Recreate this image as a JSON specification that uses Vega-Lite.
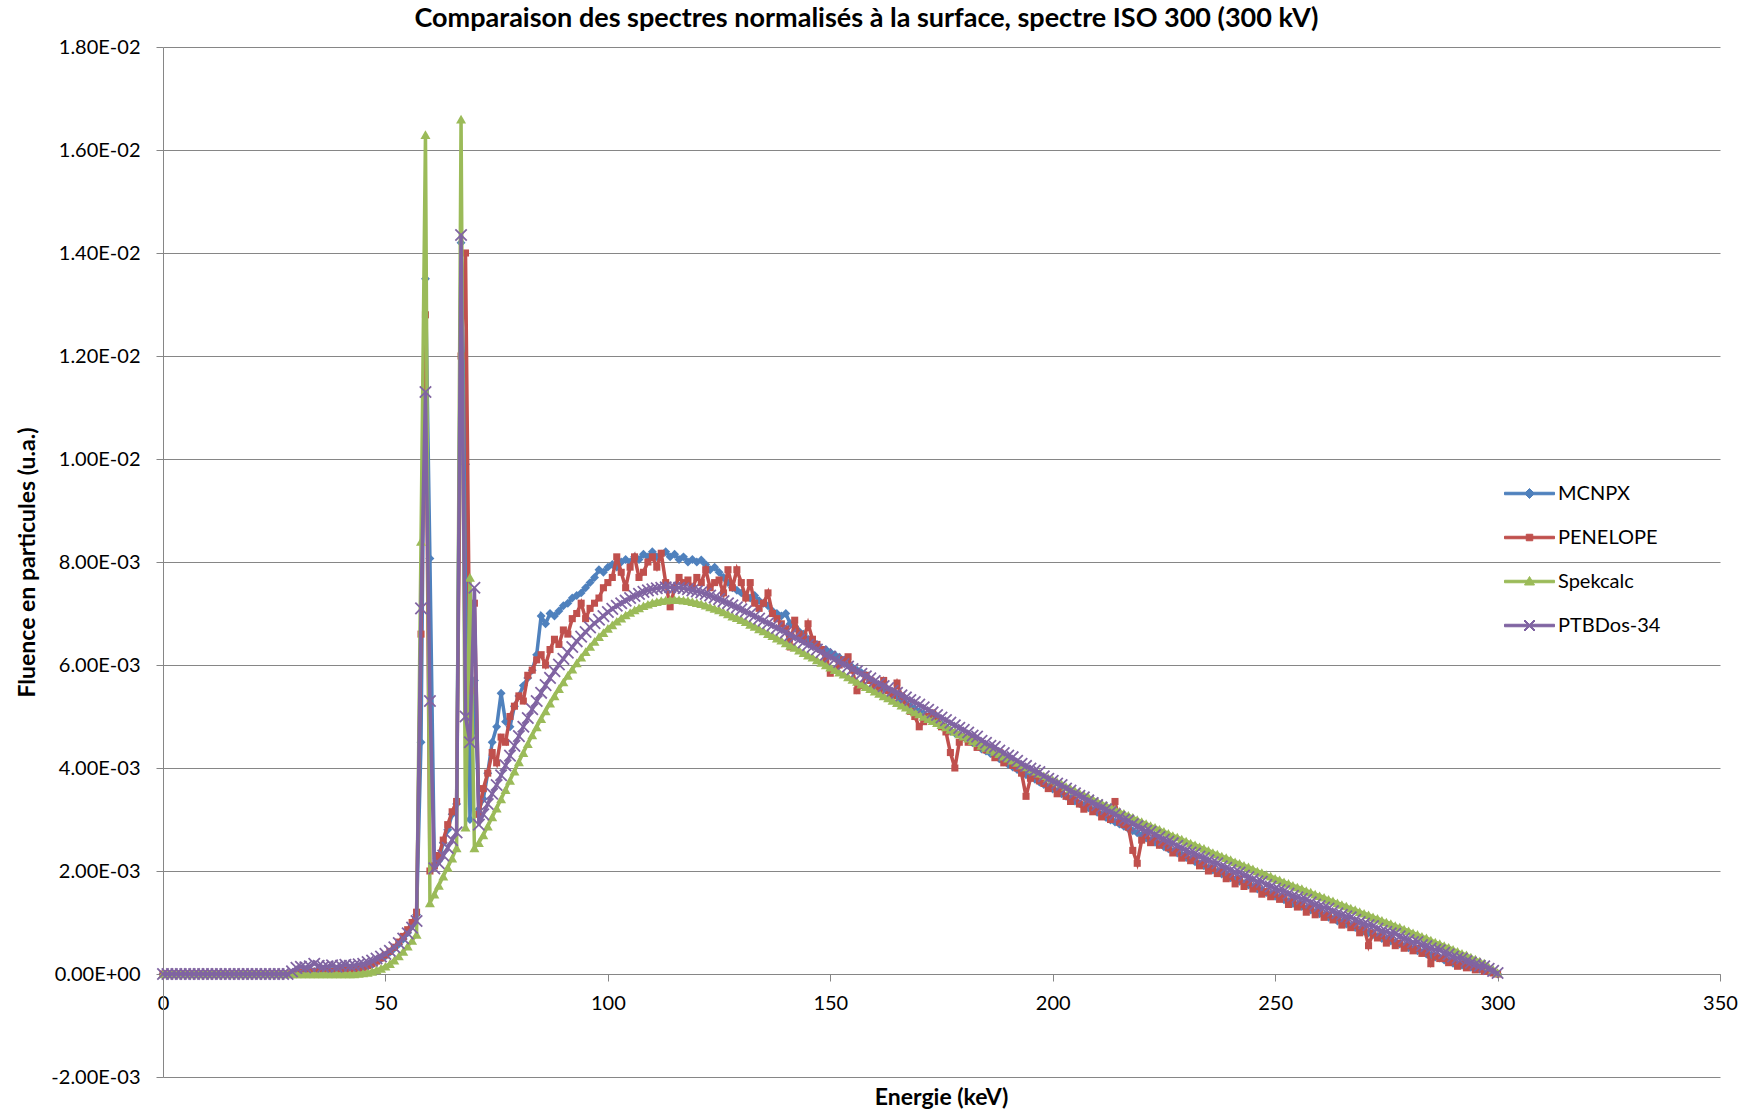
{
"$schema": "https://vega.github.io/schema/vega-lite/v6.json",
"width": 1557, "height": 1030,
"autosize": {"type": "none"},
"padding": {"left": 163, "top": 47, "right": 33, "bottom": 37},
"background": "white",
"config": {"view": {"stroke": null}},
"title": {"text": "Comparaison des spectres normalisés à la surface, spectre ISO 300 (300 kV)", "font": "Lato", "fontSize": 27, "fontWeight": "bold", "color": "#000000", "anchor": "middle", "frame": "group", "dx": -75, "offset": 4},
"data": {"values": [
{"e":0,"M":0,"P":0,"S":0,"T":0},{"e":1,"M":0,"P":0,"S":0,"T":0},{"e":2,"M":0,"P":0,"S":0,"T":0},{"e":3,"M":0,"P":0,"S":0,"T":0},{"e":4,"M":0,"P":0,"S":0,"T":0},{"e":5,"M":0,"P":0,"S":0,"T":0},{"e":6,"M":0,"P":0,"S":0,"T":0},{"e":7,"M":0,"P":0,"S":0,"T":0},{"e":8,"M":0,"P":0,"S":0,"T":0},{"e":9,"M":0,"P":0,"S":0,"T":0},
{"e":10,"M":0,"P":0,"S":0,"T":0},{"e":11,"M":0,"P":0,"S":0,"T":0},{"e":12,"M":0,"P":0,"S":0,"T":0},{"e":13,"M":0,"P":0,"S":0,"T":0},{"e":14,"M":0,"P":0,"S":0,"T":0},{"e":15,"M":0,"P":0,"S":0,"T":0},{"e":16,"M":0,"P":0,"S":0,"T":0},{"e":17,"M":0,"P":0,"S":0,"T":0},{"e":18,"M":0,"P":0,"S":0,"T":0},{"e":19,"M":0,"P":0,"S":0,"T":0},
{"e":20,"M":0,"P":0,"S":0,"T":0},{"e":21,"M":0,"P":0,"S":0,"T":0},{"e":22,"M":0,"P":0,"S":0,"T":0},{"e":23,"M":0,"P":0,"S":0,"T":0},{"e":24,"M":0,"P":0,"S":0,"T":0},{"e":25,"M":0,"P":0,"S":0,"T":0},{"e":26,"M":0,"P":0,"S":0,"T":0},{"e":27,"M":0,"P":0,"S":0,"T":0},{"e":28,"M":0,"P":0,"S":0,"T":0},{"e":29,"M":0,"P":0,"S":0,"T":0.05e-3},
{"e":30,"M":0.02e-3,"P":0.02e-3,"S":0,"T":0.12e-3},{"e":31,"M":0.03e-3,"P":0.03e-3,"S":0,"T":0.14e-3},{"e":32,"M":0.03e-3,"P":0.04e-3,"S":0,"T":0.13e-3},{"e":33,"M":0.04e-3,"P":0.03e-3,"S":0,"T":0.15e-3},{"e":34,"M":0.05e-3,"P":0.05e-3,"S":0,"T":0.2e-3},{"e":35,"M":0.04e-3,"P":0.05e-3,"S":0,"T":0.16e-3},{"e":36,"M":0.05e-3,"P":0.04e-3,"S":0,"T":0.14e-3},{"e":37,"M":0.05e-3,"P":0.06e-3,"S":0,"T":0.15e-3},{"e":38,"M":0.06e-3,"P":0.05e-3,"S":0,"T":0.17e-3},{"e":39,"M":0.06e-3,"P":0.06e-3,"S":0,"T":0.14e-3},
{"e":40,"M":0.07e-3,"P":0.07e-3,"S":0,"T":0.16e-3},{"e":41,"M":0.07e-3,"P":0.08e-3,"S":0,"T":0.18e-3},{"e":42,"M":0.08e-3,"P":0.08e-3,"S":0,"T":0.16e-3},{"e":43,"M":0.09e-3,"P":0.1e-3,"S":0,"T":0.17e-3},{"e":44,"M":0.1e-3,"P":0.11e-3,"S":0.01e-3,"T":0.19e-3},{"e":45,"M":0.12e-3,"P":0.13e-3,"S":0.02e-3,"T":0.2e-3},{"e":46,"M":0.15e-3,"P":0.16e-3,"S":0.03e-3,"T":0.23e-3},{"e":47,"M":0.19e-3,"P":0.2e-3,"S":0.05e-3,"T":0.26e-3},{"e":48,"M":0.24e-3,"P":0.25e-3,"S":0.08e-3,"T":0.3e-3},{"e":49,"M":0.29e-3,"P":0.31e-3,"S":0.11e-3,"T":0.34e-3},
{"e":50,"M":0.35e-3,"P":0.37e-3,"S":0.15e-3,"T":0.39e-3},{"e":51,"M":0.42e-3,"P":0.44e-3,"S":0.2e-3,"T":0.45e-3},{"e":52,"M":0.5e-3,"P":0.52e-3,"S":0.27e-3,"T":0.52e-3},{"e":53,"M":0.58e-3,"P":0.62e-3,"S":0.35e-3,"T":0.6e-3},{"e":54,"M":0.68e-3,"P":0.73e-3,"S":0.44e-3,"T":0.69e-3},{"e":55,"M":0.8e-3,"P":0.86e-3,"S":0.54e-3,"T":0.79e-3},{"e":56,"M":0.95e-3,"P":1.0e-3,"S":0.65e-3,"T":0.9e-3},{"e":57,"M":1.15e-3,"P":1.2e-3,"S":0.77e-3,"T":1.03e-3},{"e":58,"M":4.5e-3,"P":6.6e-3,"S":8.4e-3,"T":7.1e-3},{"e":59,"M":13.5e-3,"P":12.8e-3,"S":16.3e-3,"T":11.3e-3},
{"e":60,"M":8.07e-3,"P":2.0e-3,"S":1.38e-3,"T":5.3e-3},{"e":61,"M":2.1e-3,"P":2.1e-3,"S":1.55e-3,"T":2.05e-3},{"e":62,"M":2.2e-3,"P":2.3e-3,"S":1.72e-3,"T":2.15e-3},{"e":63,"M":2.55e-3,"P":2.6e-3,"S":1.9e-3,"T":2.3e-3},{"e":64,"M":2.8e-3,"P":2.9e-3,"S":2.07e-3,"T":2.45e-3},{"e":65,"M":3.1e-3,"P":3.15e-3,"S":2.25e-3,"T":2.6e-3},{"e":66,"M":3.3e-3,"P":3.35e-3,"S":2.45e-3,"T":2.75e-3},{"e":67,"M":14.2e-3,"P":12.0e-3,"S":16.6e-3,"T":14.35e-3},{"e":68,"M":9.9e-3,"P":14.0e-3,"S":2.85e-3,"T":5.0e-3},{"e":69,"M":3.0e-3,"P":5.5e-3,"S":7.7e-3,"T":4.5e-3},
{"e":70,"M":5.7e-3,"P":7.2e-3,"S":2.45e-3,"T":7.5e-3},{"e":71,"M":3.2e-3,"P":3.1e-3,"S":2.55e-3,"T":2.9e-3},{"e":72,"M":3.4e-3,"P":3.6e-3,"S":2.7e-3,"T":3.1e-3},{"e":73,"M":3.9e-3,"P":3.9e-3,"S":2.87e-3,"T":3.3e-3},{"e":74,"M":4.5e-3,"P":4.3e-3,"S":3.05e-3,"T":3.5e-3},{"e":75,"M":4.8e-3,"P":4.1e-3,"S":3.22e-3,"T":3.67e-3},{"e":76,"M":5.45e-3,"P":4.6e-3,"S":3.4e-3,"T":3.86e-3},{"e":77,"M":4.9e-3,"P":4.5e-3,"S":3.58e-3,"T":4.05e-3},{"e":78,"M":4.8e-3,"P":5.0e-3,"S":3.76e-3,"T":4.24e-3},{"e":79,"M":5.2e-3,"P":5.2e-3,"S":3.94e-3,"T":4.43e-3},
{"e":80,"M":5.4e-3,"P":5.4e-3,"S":4.12e-3,"T":4.62e-3},{"e":81,"M":5.6e-3,"P":5.3e-3,"S":4.3e-3,"T":4.8e-3},{"e":82,"M":5.75e-3,"P":5.8e-3,"S":4.47e-3,"T":4.97e-3},{"e":83,"M":5.9e-3,"P":5.9e-3,"S":4.64e-3,"T":5.14e-3},{"e":84,"M":6.2e-3,"P":6.1e-3,"S":4.8e-3,"T":5.3e-3},{"e":85,"M":6.95e-3,"P":6.2e-3,"S":4.96e-3,"T":5.46e-3},{"e":86,"M":6.8e-3,"P":6.0e-3,"S":5.11e-3,"T":5.61e-3},{"e":87,"M":7.0e-3,"P":6.3e-3,"S":5.26e-3,"T":5.75e-3},{"e":88,"M":6.95e-3,"P":6.5e-3,"S":5.4e-3,"T":5.88e-3},{"e":89,"M":7.05e-3,"P":6.4e-3,"S":5.54e-3,"T":6.01e-3},
{"e":90,"M":7.15e-3,"P":6.68e-3,"S":5.67e-3,"T":6.12e-3},{"e":91,"M":7.2e-3,"P":6.6e-3,"S":5.8e-3,"T":6.24e-3},{"e":92,"M":7.3e-3,"P":6.9e-3,"S":5.92e-3,"T":6.35e-3},{"e":93,"M":7.35e-3,"P":7.0e-3,"S":6.04e-3,"T":6.46e-3},{"e":94,"M":7.4e-3,"P":7.2e-3,"S":6.15e-3,"T":6.55e-3},{"e":95,"M":7.5e-3,"P":6.9e-3,"S":6.26e-3,"T":6.64e-3},{"e":96,"M":7.6e-3,"P":7.1e-3,"S":6.36e-3,"T":6.73e-3},{"e":97,"M":7.7e-3,"P":7.2e-3,"S":6.46e-3,"T":6.81e-3},{"e":98,"M":7.85e-3,"P":7.3e-3,"S":6.55e-3,"T":6.88e-3},{"e":99,"M":7.8e-3,"P":7.5e-3,"S":6.63e-3,"T":6.95e-3},
{"e":100,"M":7.9e-3,"P":7.6e-3,"S":6.71e-3,"T":7.03e-3},{"e":101,"M":7.95e-3,"P":7.7e-3,"S":6.78e-3,"T":7.09e-3},{"e":102,"M":7.9e-3,"P":8.1e-3,"S":6.85e-3,"T":7.15e-3},{"e":103,"M":8.0e-3,"P":7.8e-3,"S":6.91e-3,"T":7.2e-3},{"e":104,"M":8.05e-3,"P":7.5e-3,"S":6.97e-3,"T":7.25e-3},{"e":105,"M":8.0e-3,"P":7.9e-3,"S":7.02e-3,"T":7.3e-3},{"e":106,"M":8.1e-3,"P":8.1e-3,"S":7.07e-3,"T":7.34e-3},{"e":107,"M":8.05e-3,"P":7.7e-3,"S":7.11e-3,"T":7.38e-3},{"e":108,"M":8.15e-3,"P":7.8e-3,"S":7.15e-3,"T":7.42e-3},{"e":109,"M":8.1e-3,"P":8.0e-3,"S":7.18e-3,"T":7.45e-3},
{"e":110,"M":8.2e-3,"P":8.1e-3,"S":7.21e-3,"T":7.47e-3},{"e":111,"M":8.1e-3,"P":7.9e-3,"S":7.23e-3,"T":7.49e-3},{"e":112,"M":8.15e-3,"P":8.17e-3,"S":7.25e-3,"T":7.5e-3},{"e":113,"M":8.2e-3,"P":7.6e-3,"S":7.26e-3,"T":7.51e-3},{"e":114,"M":8.1e-3,"P":7.13e-3,"S":7.27e-3,"T":7.51e-3},{"e":115,"M":8.15e-3,"P":7.5e-3,"S":7.27e-3,"T":7.5e-3},{"e":116,"M":8.05e-3,"P":7.7e-3,"S":7.27e-3,"T":7.5e-3},{"e":117,"M":8.1e-3,"P":7.6e-3,"S":7.26e-3,"T":7.49e-3},{"e":118,"M":8.0e-3,"P":7.65e-3,"S":7.25e-3,"T":7.47e-3},{"e":119,"M":8.05e-3,"P":7.5e-3,"S":7.23e-3,"T":7.45e-3},
{"e":120,"M":8.0e-3,"P":7.7e-3,"S":7.21e-3,"T":7.43e-3},{"e":121,"M":8.04e-3,"P":7.6e-3,"S":7.19e-3,"T":7.41e-3},{"e":122,"M":7.95e-3,"P":7.85e-3,"S":7.16e-3,"T":7.38e-3},{"e":123,"M":7.85e-3,"P":7.5e-3,"S":7.13e-3,"T":7.35e-3},{"e":124,"M":7.9e-3,"P":7.6e-3,"S":7.1e-3,"T":7.31e-3},{"e":125,"M":7.8e-3,"P":7.65e-3,"S":7.07e-3,"T":7.28e-3},{"e":126,"M":7.7e-3,"P":7.4e-3,"S":7.03e-3,"T":7.24e-3},{"e":127,"M":7.6e-3,"P":7.85e-3,"S":6.99e-3,"T":7.2e-3},{"e":128,"M":7.5e-3,"P":7.5e-3,"S":6.95e-3,"T":7.16e-3},{"e":129,"M":7.45e-3,"P":7.85e-3,"S":6.92e-3,"T":7.12e-3},
{"e":130,"M":7.4e-3,"P":7.6e-3,"S":6.88e-3,"T":7.08e-3},{"e":131,"M":7.35e-3,"P":7.3e-3,"S":6.84e-3,"T":7.04e-3},{"e":132,"M":7.3e-3,"P":7.6e-3,"S":6.79e-3,"T":6.99e-3},{"e":133,"M":7.35e-3,"P":7.2e-3,"S":6.75e-3,"T":6.95e-3},{"e":134,"M":7.25e-3,"P":7.1e-3,"S":6.7e-3,"T":6.9e-3},{"e":135,"M":7.2e-3,"P":7.2e-3,"S":6.66e-3,"T":6.86e-3},{"e":136,"M":7.15e-3,"P":7.4e-3,"S":6.61e-3,"T":6.81e-3},{"e":137,"M":7.05e-3,"P":7.0e-3,"S":6.57e-3,"T":6.77e-3},{"e":138,"M":7.0e-3,"P":6.9e-3,"S":6.52e-3,"T":6.72e-3},{"e":139,"M":6.95e-3,"P":6.8e-3,"S":6.48e-3,"T":6.68e-3},
{"e":140,"M":7.0e-3,"P":6.7e-3,"S":6.43e-3,"T":6.63e-3},{"e":141,"M":6.8e-3,"P":6.35e-3,"S":6.38e-3,"T":6.58e-3},{"e":142,"M":6.75e-3,"P":6.87e-3,"S":6.34e-3,"T":6.54e-3},{"e":143,"M":6.65e-3,"P":6.6e-3,"S":6.29e-3,"T":6.49e-3},{"e":144,"M":6.6e-3,"P":6.5e-3,"S":6.24e-3,"T":6.44e-3},{"e":145,"M":6.5e-3,"P":6.8e-3,"S":6.19e-3,"T":6.39e-3},{"e":146,"M":6.45e-3,"P":6.5e-3,"S":6.15e-3,"T":6.35e-3},{"e":147,"M":6.4e-3,"P":6.4e-3,"S":6.1e-3,"T":6.3e-3},{"e":148,"M":6.3e-3,"P":6.3e-3,"S":6.05e-3,"T":6.25e-3},{"e":149,"M":6.3e-3,"P":6.1e-3,"S":6.0e-3,"T":6.2e-3},
{"e":150,"M":6.25e-3,"P":5.84e-3,"S":5.96e-3,"T":6.16e-3},{"e":151,"M":6.2e-3,"P":5.9e-3,"S":5.91e-3,"T":6.11e-3},{"e":152,"M":6.15e-3,"P":6.0e-3,"S":5.86e-3,"T":6.06e-3},{"e":153,"M":6.05e-3,"P":6.1e-3,"S":5.82e-3,"T":6.02e-3},{"e":154,"M":6.0e-3,"P":6.16e-3,"S":5.77e-3,"T":5.97e-3},{"e":155,"M":5.95e-3,"P":5.9e-3,"S":5.72e-3,"T":5.92e-3},{"e":156,"M":5.9e-3,"P":5.5e-3,"S":5.68e-3,"T":5.88e-3},{"e":157,"M":5.85e-3,"P":5.6e-3,"S":5.63e-3,"T":5.83e-3},{"e":158,"M":5.8e-3,"P":5.8e-3,"S":5.58e-3,"T":5.78e-3},{"e":159,"M":5.7e-3,"P":5.7e-3,"S":5.54e-3,"T":5.74e-3},
{"e":160,"M":5.65e-3,"P":5.6e-3,"S":5.49e-3,"T":5.69e-3},{"e":161,"M":5.6e-3,"P":5.5e-3,"S":5.45e-3,"T":5.64e-3},{"e":162,"M":5.55e-3,"P":5.7e-3,"S":5.4e-3,"T":5.59e-3},{"e":163,"M":5.5e-3,"P":5.5e-3,"S":5.36e-3,"T":5.55e-3},{"e":164,"M":5.45e-3,"P":5.4e-3,"S":5.31e-3,"T":5.5e-3},{"e":165,"M":5.4e-3,"P":5.65e-3,"S":5.27e-3,"T":5.46e-3},{"e":166,"M":5.3e-3,"P":5.4e-3,"S":5.22e-3,"T":5.41e-3},{"e":167,"M":5.25e-3,"P":5.2e-3,"S":5.18e-3,"T":5.37e-3},{"e":168,"M":5.2e-3,"P":5.1e-3,"S":5.13e-3,"T":5.32e-3},{"e":169,"M":5.15e-3,"P":5.0e-3,"S":5.09e-3,"T":5.28e-3},
{"e":170,"M":5.1e-3,"P":4.8e-3,"S":5.05e-3,"T":5.23e-3},{"e":171,"M":5.05e-3,"P":4.9e-3,"S":5.0e-3,"T":5.18e-3},{"e":172,"M":5.0e-3,"P":5.0e-3,"S":4.96e-3,"T":5.13e-3},{"e":173,"M":4.95e-3,"P":5.07e-3,"S":4.92e-3,"T":5.08e-3},{"e":174,"M":4.9e-3,"P":4.9e-3,"S":4.88e-3,"T":5.03e-3},{"e":175,"M":4.85e-3,"P":4.8e-3,"S":4.84e-3,"T":4.98e-3},{"e":176,"M":4.8e-3,"P":4.7e-3,"S":4.8e-3,"T":4.93e-3},{"e":177,"M":4.72e-3,"P":4.3e-3,"S":4.75e-3,"T":4.88e-3},{"e":178,"M":4.68e-3,"P":4.0e-3,"S":4.71e-3,"T":4.83e-3},{"e":179,"M":4.65e-3,"P":4.5e-3,"S":4.66e-3,"T":4.78e-3},
{"e":180,"M":4.6e-3,"P":4.6e-3,"S":4.62e-3,"T":4.74e-3},{"e":181,"M":4.55e-3,"P":4.5e-3,"S":4.58e-3,"T":4.69e-3},{"e":182,"M":4.49e-3,"P":4.6e-3,"S":4.53e-3,"T":4.63e-3},{"e":183,"M":4.44e-3,"P":4.4e-3,"S":4.49e-3,"T":4.61e-3},{"e":184,"M":4.37e-3,"P":4.45e-3,"S":4.44e-3,"T":4.53e-3},{"e":185,"M":4.33e-3,"P":4.35e-3,"S":4.4e-3,"T":4.49e-3},{"e":186,"M":4.28e-3,"P":4.4e-3,"S":4.36e-3,"T":4.43e-3},{"e":187,"M":4.23e-3,"P":4.2e-3,"S":4.32e-3,"T":4.41e-3},{"e":188,"M":4.18e-3,"P":4.3e-3,"S":4.28e-3,"T":4.34e-3},{"e":189,"M":4.12e-3,"P":4.1e-3,"S":4.23e-3,"T":4.29e-3},
{"e":190,"M":4.07e-3,"P":4.15e-3,"S":4.19e-3,"T":4.24e-3},{"e":191,"M":4.02e-3,"P":4.05e-3,"S":4.15e-3,"T":4.21e-3},{"e":192,"M":3.97e-3,"P":4.0e-3,"S":4.11e-3,"T":4.14e-3},{"e":193,"M":3.92e-3,"P":3.9e-3,"S":4.06e-3,"T":4.08e-3},{"e":194,"M":3.87e-3,"P":3.45e-3,"S":4.02e-3,"T":4.04e-3},{"e":195,"M":3.83e-3,"P":3.8e-3,"S":3.98e-3,"T":3.99e-3},{"e":196,"M":3.78e-3,"P":3.85e-3,"S":3.94e-3,"T":3.95e-3},{"e":197,"M":3.73e-3,"P":3.75e-3,"S":3.9e-3,"T":3.92e-3},{"e":198,"M":3.68e-3,"P":3.7e-3,"S":3.85e-3,"T":3.84e-3},{"e":199,"M":3.64e-3,"P":3.6e-3,"S":3.81e-3,"T":3.79e-3},
{"e":200,"M":3.59e-3,"P":3.65e-3,"S":3.77e-3,"T":3.75e-3},{"e":201,"M":3.55e-3,"P":3.5e-3,"S":3.73e-3,"T":3.7e-3},{"e":202,"M":3.5e-3,"P":3.55e-3,"S":3.69e-3,"T":3.67e-3},{"e":203,"M":3.45e-3,"P":3.45e-3,"S":3.64e-3,"T":3.6e-3},{"e":204,"M":3.41e-3,"P":3.35e-3,"S":3.6e-3,"T":3.56e-3},{"e":205,"M":3.36e-3,"P":3.45e-3,"S":3.56e-3,"T":3.51e-3},{"e":206,"M":3.31e-3,"P":3.3e-3,"S":3.52e-3,"T":3.46e-3},{"e":207,"M":3.27e-3,"P":3.2e-3,"S":3.48e-3,"T":3.43e-3},{"e":208,"M":3.23e-3,"P":3.3e-3,"S":3.44e-3,"T":3.37e-3},{"e":209,"M":3.18e-3,"P":3.15e-3,"S":3.4e-3,"T":3.32e-3},
{"e":210,"M":3.14e-3,"P":3.2e-3,"S":3.36e-3,"T":3.28e-3},{"e":211,"M":3.09e-3,"P":3.05e-3,"S":3.32e-3,"T":3.23e-3},{"e":212,"M":3.04e-3,"P":3.1e-3,"S":3.28e-3,"T":3.2e-3},{"e":213,"M":2.99e-3,"P":3.0e-3,"S":3.24e-3,"T":3.14e-3},{"e":214,"M":2.95e-3,"P":3.35e-3,"S":3.2e-3,"T":3.1e-3},{"e":215,"M":2.91e-3,"P":2.95e-3,"S":3.16e-3,"T":3.05e-3},{"e":216,"M":2.87e-3,"P":2.9e-3,"S":3.12e-3,"T":3.0e-3},{"e":217,"M":2.82e-3,"P":2.85e-3,"S":3.08e-3,"T":2.98e-3},{"e":218,"M":2.78e-3,"P":2.4e-3,"S":3.04e-3,"T":2.91e-3},{"e":219,"M":2.74e-3,"P":2.15e-3,"S":3.0e-3,"T":2.87e-3},
{"e":220,"M":2.69e-3,"P":2.6e-3,"S":2.96e-3,"T":2.82e-3},{"e":221,"M":2.64e-3,"P":2.7e-3,"S":2.92e-3,"T":2.78e-3},{"e":222,"M":2.59e-3,"P":2.55e-3,"S":2.88e-3,"T":2.76e-3},{"e":223,"M":2.56e-3,"P":2.65e-3,"S":2.85e-3,"T":2.7e-3},{"e":224,"M":2.52e-3,"P":2.5e-3,"S":2.81e-3,"T":2.66e-3},{"e":225,"M":2.47e-3,"P":2.55e-3,"S":2.77e-3,"T":2.61e-3},{"e":226,"M":2.43e-3,"P":2.45e-3,"S":2.73e-3,"T":2.57e-3},{"e":227,"M":2.38e-3,"P":2.35e-3,"S":2.69e-3,"T":2.54e-3},{"e":228,"M":2.35e-3,"P":2.4e-3,"S":2.66e-3,"T":2.49e-3},{"e":229,"M":2.31e-3,"P":2.25e-3,"S":2.62e-3,"T":2.44e-3},
{"e":230,"M":2.26e-3,"P":2.3e-3,"S":2.58e-3,"T":2.4e-3},{"e":231,"M":2.22e-3,"P":2.2e-3,"S":2.54e-3,"T":2.36e-3},{"e":232,"M":2.18e-3,"P":2.25e-3,"S":2.51e-3,"T":2.34e-3},{"e":233,"M":2.14e-3,"P":2.1e-3,"S":2.47e-3,"T":2.28e-3},{"e":234,"M":2.1e-3,"P":2.15e-3,"S":2.44e-3,"T":2.25e-3},{"e":235,"M":2.06e-3,"P":2.0e-3,"S":2.4e-3,"T":2.21e-3},{"e":236,"M":2.02e-3,"P":2.05e-3,"S":2.36e-3,"T":2.17e-3},{"e":237,"M":1.98e-3,"P":1.95e-3,"S":2.33e-3,"T":2.15e-3},{"e":238,"M":1.94e-3,"P":2.0e-3,"S":2.29e-3,"T":2.09e-3},{"e":239,"M":1.91e-3,"P":1.85e-3,"S":2.26e-3,"T":2.06e-3},
{"e":240,"M":1.87e-3,"P":1.9e-3,"S":2.22e-3,"T":2.02e-3},{"e":241,"M":1.83e-3,"P":1.75e-3,"S":2.18e-3,"T":1.98e-3},{"e":242,"M":1.8e-3,"P":1.85e-3,"S":2.15e-3,"T":1.97e-3},{"e":243,"M":1.76e-3,"P":1.7e-3,"S":2.11e-3,"T":1.91e-3},{"e":244,"M":1.73e-3,"P":1.78e-3,"S":2.08e-3,"T":1.88e-3},{"e":245,"M":1.69e-3,"P":1.65e-3,"S":2.04e-3,"T":1.84e-3},{"e":246,"M":1.65e-3,"P":1.7e-3,"S":2.0e-3,"T":1.8e-3},{"e":247,"M":1.62e-3,"P":1.55e-3,"S":1.97e-3,"T":1.79e-3},{"e":248,"M":1.58e-3,"P":1.6e-3,"S":1.93e-3,"T":1.73e-3},{"e":249,"M":1.55e-3,"P":1.5e-3,"S":1.9e-3,"T":1.7e-3},
{"e":250,"M":1.51e-3,"P":1.55e-3,"S":1.86e-3,"T":1.66e-3},{"e":251,"M":1.48e-3,"P":1.45e-3,"S":1.83e-3,"T":1.63e-3},{"e":252,"M":1.44e-3,"P":1.5e-3,"S":1.79e-3,"T":1.61e-3},{"e":253,"M":1.41e-3,"P":1.35e-3,"S":1.76e-3,"T":1.56e-3},{"e":254,"M":1.37e-3,"P":1.45e-3,"S":1.72e-3,"T":1.52e-3},{"e":255,"M":1.34e-3,"P":1.3e-3,"S":1.69e-3,"T":1.49e-3},{"e":256,"M":1.31e-3,"P":1.35e-3,"S":1.66e-3,"T":1.46e-3},{"e":257,"M":1.27e-3,"P":1.2e-3,"S":1.62e-3,"T":1.44e-3},{"e":258,"M":1.24e-3,"P":1.3e-3,"S":1.59e-3,"T":1.39e-3},{"e":259,"M":1.2e-3,"P":1.15e-3,"S":1.55e-3,"T":1.35e-3},
{"e":260,"M":1.17e-3,"P":1.25e-3,"S":1.52e-3,"T":1.32e-3},{"e":261,"M":1.14e-3,"P":1.1e-3,"S":1.49e-3,"T":1.29e-3},{"e":262,"M":1.1e-3,"P":1.15e-3,"S":1.45e-3,"T":1.27e-3},{"e":263,"M":1.07e-3,"P":1.05e-3,"S":1.42e-3,"T":1.22e-3},{"e":264,"M":1.03e-3,"P":1.1e-3,"S":1.38e-3,"T":1.18e-3},{"e":265,"M":1.0e-3,"P":0.95e-3,"S":1.35e-3,"T":1.15e-3},{"e":266,"M":0.97e-3,"P":1.05e-3,"S":1.32e-3,"T":1.12e-3},{"e":267,"M":0.93e-3,"P":0.9e-3,"S":1.28e-3,"T":1.1e-3},{"e":268,"M":0.9e-3,"P":0.95e-3,"S":1.25e-3,"T":1.05e-3},{"e":269,"M":0.86e-3,"P":0.8e-3,"S":1.21e-3,"T":1.01e-3},
{"e":270,"M":0.83e-3,"P":0.9e-3,"S":1.18e-3,"T":0.98e-3},{"e":271,"M":0.8e-3,"P":0.55e-3,"S":1.15e-3,"T":0.95e-3},{"e":272,"M":0.76e-3,"P":0.8e-3,"S":1.11e-3,"T":0.93e-3},{"e":273,"M":0.73e-3,"P":0.7e-3,"S":1.08e-3,"T":0.88e-3},{"e":274,"M":0.69e-3,"P":0.75e-3,"S":1.04e-3,"T":0.84e-3},{"e":275,"M":0.67e-3,"P":0.6e-3,"S":1.01e-3,"T":0.82e-3},{"e":276,"M":0.64e-3,"P":0.7e-3,"S":0.98e-3,"T":0.79e-3},{"e":277,"M":0.61e-3,"P":0.55e-3,"S":0.94e-3,"T":0.78e-3},{"e":278,"M":0.58e-3,"P":0.6e-3,"S":0.91e-3,"T":0.73e-3},{"e":279,"M":0.54e-3,"P":0.5e-3,"S":0.87e-3,"T":0.69e-3},
{"e":280,"M":0.51e-3,"P":0.55e-3,"S":0.84e-3,"T":0.66e-3},{"e":281,"M":0.48e-3,"P":0.45e-3,"S":0.8e-3,"T":0.62e-3},{"e":282,"M":0.45e-3,"P":0.5e-3,"S":0.77e-3,"T":0.62e-3},{"e":283,"M":0.42e-3,"P":0.4e-3,"S":0.73e-3,"T":0.56e-3},{"e":284,"M":0.39e-3,"P":0.45e-3,"S":0.7e-3,"T":0.54e-3},{"e":285,"M":0.36e-3,"P":0.2e-3,"S":0.66e-3,"T":0.5e-3},{"e":286,"M":0.33e-3,"P":0.35e-3,"S":0.62e-3,"T":0.47e-3},{"e":287,"M":0.31e-3,"P":0.3e-3,"S":0.59e-3,"T":0.46e-3},{"e":288,"M":0.27e-3,"P":0.3e-3,"S":0.55e-3,"T":0.41e-3},{"e":289,"M":0.25e-3,"P":0.22e-3,"S":0.52e-3,"T":0.38e-3},
{"e":290,"M":0.21e-3,"P":0.25e-3,"S":0.48e-3,"T":0.34e-3},{"e":291,"M":0.19e-3,"P":0.15e-3,"S":0.44e-3,"T":0.31e-3},{"e":292,"M":0.17e-3,"P":0.2e-3,"S":0.4e-3,"T":0.3e-3},{"e":293,"M":0.16e-3,"P":0.12e-3,"S":0.37e-3,"T":0.25e-3},{"e":294,"M":0.13e-3,"P":0.15e-3,"S":0.33e-3,"T":0.22e-3},{"e":295,"M":0.11e-3,"P":0.08e-3,"S":0.29e-3,"T":0.19e-3},{"e":296,"M":0.09e-3,"P":0.1e-3,"S":0.25e-3,"T":0.16e-3},{"e":297,"M":0.07e-3,"P":0.05e-3,"S":0.21e-3,"T":0.15e-3},{"e":298,"M":0.05e-3,"P":0.06e-3,"S":0.14e-3,"T":0.1e-3},{"e":299,"M":0.03e-3,"P":0.02e-3,"S":0.09e-3,"T":0.06e-3},
{"e":300,"M":0,"P":0,"S":0.03e-3,"T":0.02e-3}
]},
"transform": [
  {"fold": ["M", "P", "S", "T"], "as": ["k", "v"]},
  {"lookup": "k", "from": {"data": {"values": [{"k": "M", "series": "MCNPX"}, {"k": "P", "series": "PENELOPE"}, {"k": "S", "series": "Spekcalc"}, {"k": "T", "series": "PTBDos-34"}]}, "key": "k", "fields": ["series"]}}
],
"encoding": {
  "x": {"field": "e", "type": "quantitative",
    "scale": {"domain": [0, 350], "nice": false, "zero": false},
    "axis": {"values": [0, 50, 100, 150, 200, 250, 300, 350], "offset": -103, "grid": false,
      "domainColor": "#868686", "domainWidth": 1, "tickColor": "#868686", "tickSize": 7, "tickWidth": 1,
      "labelFont": "Lato", "labelFontSize": 20, "labelColor": "#000000", "labelPadding": 12, "labelFlush": false,
      "title": "Energie (keV)", "titleFont": "Lato", "titleFontSize": 23, "titleFontWeight": "bold", "titleColor": "#000000",
      "titleX": 778, "titleY": 123, "titleBaseline": "middle", "titleAlign": "center"}},
  "y": {"field": "v", "type": "quantitative",
    "scale": {"domain": [-0.002, 0.018], "nice": false, "zero": false},
    "axis": {"values": [-0.002, 0, 0.002, 0.004, 0.006, 0.008, 0.01, 0.012, 0.014, 0.016, 0.018],
      "grid": true, "gridColor": "#868686", "gridWidth": 1,
      "domainColor": "#868686", "domainWidth": 1, "tickColor": "#868686", "tickSize": 7, "tickWidth": 1,
      "labelFont": "Lato", "labelFontSize": 20, "labelColor": "#000000", "labelPadding": 16,
      "labelExpr": "replace(replace(replace(format(datum.value, '.2e'), 'e-', 'E-0'), 'e+', 'E+0'), '−', '-')",
      "title": "Fluence en particules (u.a.)", "titleFont": "Lato", "titleFontSize": 23, "titleFontWeight": "bold", "titleColor": "#000000",
      "titleX": -136, "titleY": 515, "titleAngle": -90, "titleBaseline": "middle", "titleAlign": "center"}},
  "color": {"field": "series", "type": "nominal",
    "scale": {"domain": ["MCNPX", "PENELOPE", "Spekcalc", "PTBDos-34"], "range": ["#4F81BD", "#C0504D", "#9BBB59", "#8064A2"]},
    "legend": {"title": null, "orient": "none", "legendX": 1341, "legendY": 421, "padding": 0,
      "symbolSize": 2500, "labelFont": "Lato", "labelFontSize": 20, "labelColor": "#000000", "labelOffset": 3, "rowPadding": 8,
      "encode": {"symbols": {"update": {
        "shape": {"signal": "datum.value === 'MCNPX' ? 'M-1,-0.05H1V0.05H-1Z M0,-0.2L0.2,0L0,0.2L-0.2,0Z' : datum.value === 'PENELOPE' ? 'M-1,-0.05H1V0.05H-1Z M-0.13,-0.13H0.13V0.13H-0.13Z' : datum.value === 'Spekcalc' ? 'M-1,-0.05H1V0.05H-1Z M0,-0.2L0.2,0.14H-0.2Z' : 'M-1,-0.05H1V0.05H-1Z M-0.22,-0.18L-0.18,-0.22L0,-0.04L0.18,-0.22L0.22,-0.18L0.04,0L0.22,0.18L0.18,0.22L0,0.04L-0.18,0.22L-0.22,0.18L-0.04,0Z'"},
        "fill": {"signal": "scale('color', datum.value)"},
        "stroke": {"signal": "scale('color', datum.value)"},
        "strokeWidth": {"value": 1},
        "opacity": {"value": 1},
        "size": {"value": 2500}}}}}}
},
"layer": [
  {"transform": [{"filter": "datum.series === 'MCNPX'"}], "mark": {"type": "line", "strokeWidth": 3.5}},
  {"transform": [{"filter": "datum.series === 'MCNPX'"}], "mark": {"type": "point", "shape": "diamond", "filled": true, "opacity": 1, "size": 80}},
  {"transform": [{"filter": "datum.series === 'PENELOPE'"}], "mark": {"type": "line", "strokeWidth": 3.5}},
  {"transform": [{"filter": "datum.series === 'PENELOPE'"}], "mark": {"type": "point", "shape": "square", "filled": true, "opacity": 1, "size": 50}},
  {"transform": [{"filter": "datum.series === 'Spekcalc'"}], "mark": {"type": "line", "strokeWidth": 3.5}},
  {"transform": [{"filter": "datum.series === 'Spekcalc'"}], "mark": {"type": "point", "shape": "triangle-up", "filled": true, "opacity": 1, "size": 100}},
  {"transform": [{"filter": "datum.series === 'PTBDos-34'"}], "mark": {"type": "line", "strokeWidth": 3.5}},
  {"transform": [{"filter": "datum.series === 'PTBDos-34'"}], "mark": {"type": "point", "shape": "M-1,-0.8L-0.8,-1L0,-0.2L0.8,-1L1,-0.8L0.2,0L1,0.8L0.8,1L0,0.2L-0.8,1L-1,0.8L-0.2,0Z", "filled": true, "opacity": 1, "size": 160}}
]
}
